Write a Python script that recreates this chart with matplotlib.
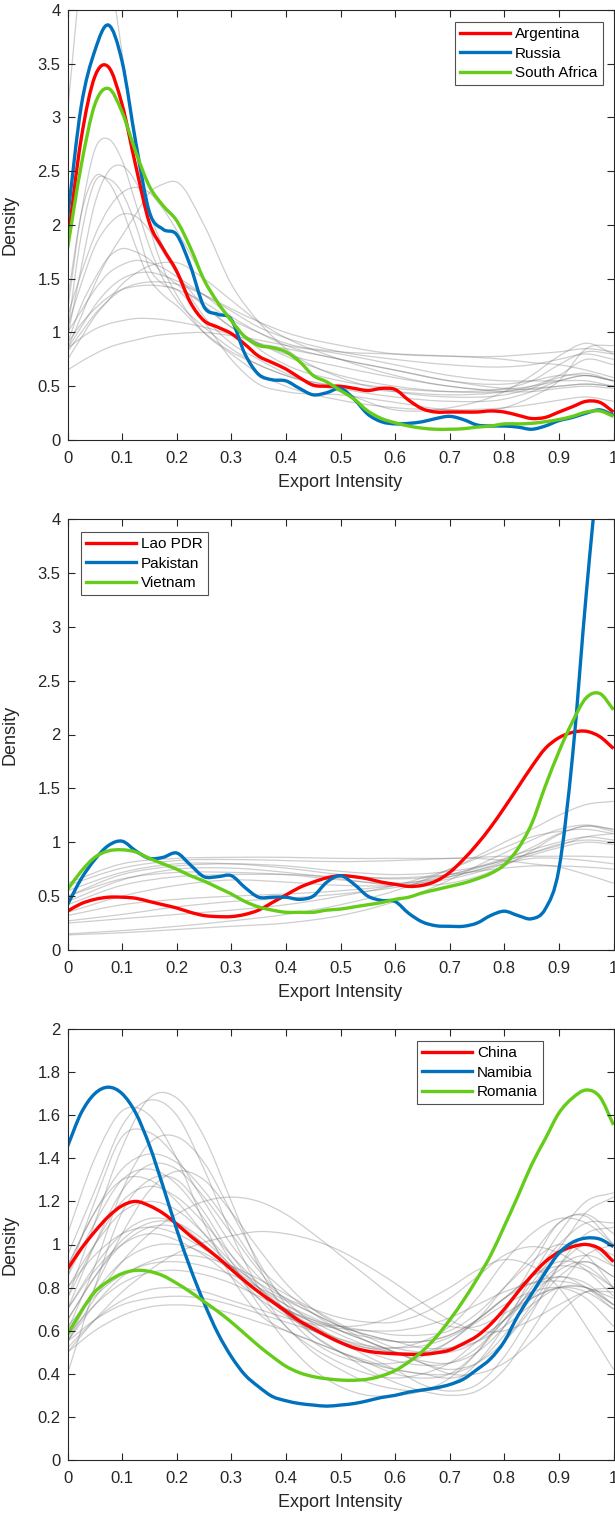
import numpy as np
import matplotlib
matplotlib.use("Agg")
import matplotlib.pyplot as plt
from matplotlib.path import Path
from matplotlib.patches import PathPatch
from matplotlib.lines import Line2D
from matplotlib.ticker import FuncFormatter

plt.rcParams['font.family'] = ['Liberation Sans', 'DejaVu Sans']

# ---------------------------------------------------------------- grids
x_fine = np.round(np.arange(41) * 0.025, 3)

# ---------------------------------------------------------------- panel 1
p1_names = ["Argentina", "Russia", "South Africa"]
p1_argentina = [1.83, 2.80, 3.38, 3.47, 3.12, 2.55, 2.02, 1.78, 1.57, 1.28, 1.11,
                1.05, 0.99, 0.89, 0.78, 0.72, 0.66, 0.58, 0.51, 0.50, 0.50, 0.48,
                0.46, 0.48, 0.47, 0.37, 0.29, 0.26, 0.26, 0.26, 0.26, 0.27, 0.26,
                0.23, 0.20, 0.21, 0.26, 0.31, 0.36, 0.35, 0.26]
p1_russia = [2.06, 3.10, 3.62, 3.86, 3.52, 2.77, 2.12, 1.96, 1.91, 1.62, 1.24,
             1.17, 1.12, 0.80, 0.61, 0.56, 0.55, 0.48, 0.42, 0.44, 0.48, 0.38,
             0.24, 0.17, 0.15, 0.155, 0.17, 0.20, 0.22, 0.19, 0.14, 0.13, 0.13,
             0.12, 0.10, 0.13, 0.18, 0.21, 0.25, 0.28, 0.23]
p1_south_africa = [1.78, 2.55, 3.12, 3.27, 3.05, 2.68, 2.36, 2.18, 2.04, 1.79, 1.49,
                   1.28, 1.11, 0.96, 0.88, 0.86, 0.82, 0.73, 0.60, 0.54, 0.46, 0.38,
                   0.27, 0.20, 0.16, 0.13, 0.11, 0.10, 0.10, 0.105, 0.12, 0.13, 0.15,
                   0.15, 0.155, 0.17, 0.19, 0.22, 0.26, 0.27, 0.22]

p1_gray_x = [0, 0.025, 0.05, 0.075, 0.1, 0.125, 0.15, 0.175, 0.2, 0.25, 0.3,
             0.35, 0.4, 0.5, 0.6, 0.7, 0.8, 0.85, 0.9, 0.95, 1.0]
p1_gray = [
    [3.05, 4.30, 4.70, 4.40, 3.60, 2.70, 2.00, 1.60, 1.35, 1.00, 0.80, 0.62, 0.50, 0.37, 0.30, 0.28, 0.30, 0.33, 0.37, 0.40, 0.36],
    [1.20, 2.10, 2.70, 2.80, 2.60, 2.20, 1.80, 1.50, 1.30, 1.05, 0.85, 0.70, 0.60, 0.50, 0.45, 0.42, 0.45, 0.50, 0.60, 0.75, 0.70],
    [0.95, 1.60, 2.20, 2.50, 2.55, 2.40, 2.10, 1.80, 1.55, 1.15, 0.90, 0.75, 0.62, 0.48, 0.40, 0.36, 0.38, 0.45, 0.55, 0.60, 0.55],
    [1.30, 2.10, 2.45, 2.40, 2.15, 1.80, 1.50, 1.35, 1.25, 1.00, 0.82, 0.70, 0.60, 0.45, 0.28, 0.30, 0.45, 0.60, 0.78, 0.90, 0.80],
    [1.00, 1.90, 2.40, 2.43, 2.30, 2.00, 1.60, 1.45, 1.40, 1.10, 0.75, 0.52, 0.45, 0.42, 0.35, 0.28, 0.30, 0.40, 0.55, 0.85, 0.88],
    [0.85, 1.15, 1.45, 1.70, 1.90, 2.10, 2.30, 2.38, 2.40, 2.00, 1.45, 1.10, 0.85, 0.58, 0.45, 0.40, 0.42, 0.48, 0.58, 0.62, 0.55],
    [1.15, 1.55, 1.90, 2.15, 2.30, 2.35, 2.30, 2.15, 1.95, 1.50, 1.10, 0.85, 0.70, 0.55, 0.48, 0.45, 0.47, 0.50, 0.55, 0.60, 0.55],
    [1.05, 1.45, 1.80, 2.00, 2.10, 2.08, 1.95, 1.75, 1.55, 1.25, 1.05, 0.90, 0.78, 0.60, 0.50, 0.45, 0.45, 0.48, 0.50, 0.52, 0.50],
    [0.90, 1.25, 1.50, 1.70, 1.78, 1.75, 1.68, 1.55, 1.45, 1.25, 1.05, 0.90, 0.80, 0.68, 0.58, 0.50, 0.45, 0.45, 0.48, 0.50, 0.48],
    [1.00, 1.20, 1.40, 1.55, 1.63, 1.67, 1.65, 1.60, 1.52, 1.35, 1.15, 1.00, 0.88, 0.75, 0.65, 0.55, 0.48, 0.47, 0.50, 0.52, 0.50],
    [0.85, 1.05, 1.25, 1.40, 1.50, 1.55, 1.56, 1.53, 1.48, 1.35, 1.20, 1.05, 0.95, 0.82, 0.75, 0.70, 0.68, 0.70, 0.75, 0.80, 0.75],
    [0.82, 1.00, 1.17, 1.30, 1.40, 1.45, 1.47, 1.47, 1.45, 1.35, 1.22, 1.10, 1.00, 0.88, 0.80, 0.78, 0.78, 0.80, 0.82, 0.85, 0.82],
    [0.90, 1.08, 1.22, 1.33, 1.40, 1.43, 1.44, 1.43, 1.40, 1.28, 1.12, 1.00, 0.90, 0.82, 0.80, 0.78, 0.75, 0.72, 0.70, 0.65, 0.58],
    [0.85, 0.95, 1.03, 1.08, 1.11, 1.13, 1.13, 1.12, 1.10, 1.05, 0.98, 0.90, 0.85, 0.75, 0.65, 0.55, 0.52, 0.55, 0.60, 0.60, 0.55],
    [0.65, 0.73, 0.80, 0.86, 0.90, 0.93, 0.96, 0.98, 0.99, 1.00, 0.97, 0.93, 0.88, 0.80, 0.70, 0.60, 0.55, 0.55, 0.55, 0.55, 0.50],
    [0.75, 0.95, 1.15, 1.30, 1.45, 1.55, 1.62, 1.65, 1.65, 1.50, 1.30, 1.10, 0.95, 0.75, 0.60, 0.50, 0.48, 0.55, 0.70, 0.82, 0.80],
]

# ---------------------------------------------------------------- panel 2
p2_names = ["Lao PDR", "Pakistan", "Vietnam"]
p2_lao = [0.36, 0.43, 0.47, 0.49, 0.49, 0.48, 0.45, 0.42, 0.39, 0.35, 0.32,
          0.31, 0.31, 0.33, 0.37, 0.44, 0.51, 0.58, 0.63, 0.67, 0.69, 0.68,
          0.66, 0.63, 0.61, 0.59, 0.60, 0.64, 0.72, 0.84, 0.98, 1.14, 1.32,
          1.51, 1.70, 1.87, 1.97, 2.02, 2.03, 1.98, 1.87]
p2_pakistan = [0.42, 0.66, 0.84, 0.97, 1.01, 0.92, 0.85, 0.86, 0.90, 0.79, 0.68,
               0.68, 0.69, 0.58, 0.49, 0.49, 0.49, 0.47, 0.50, 0.63, 0.69, 0.61,
               0.50, 0.46, 0.45, 0.34, 0.26, 0.225, 0.22, 0.22, 0.25, 0.32, 0.36,
               0.32, 0.29, 0.38, 0.75, 1.80, 3.30, 4.60, 5.50]
p2_vietnam = [0.56, 0.73, 0.86, 0.92, 0.93, 0.91, 0.85, 0.80, 0.75, 0.69, 0.64,
              0.58, 0.52, 0.45, 0.40, 0.37, 0.35, 0.35, 0.35, 0.37, 0.38, 0.40,
              0.42, 0.44, 0.47, 0.49, 0.53, 0.56, 0.59, 0.62, 0.66, 0.71, 0.79,
              0.94, 1.17, 1.52, 1.84, 2.12, 2.34, 2.38, 2.23]

p2_gray_x = [0, 0.1, 0.2, 0.3, 0.4, 0.5, 0.6, 0.7, 0.75, 0.8, 0.85, 0.9, 0.95, 1.0]
p2_gray = [
    [0.14, 0.16, 0.19, 0.22, 0.25, 0.32, 0.45, 0.65, 0.78, 0.90, 1.02, 1.12, 1.16, 1.12],
    [0.15, 0.18, 0.22, 0.27, 0.33, 0.42, 0.55, 0.75, 0.87, 1.00, 1.12, 1.25, 1.35, 1.38],
    [0.25, 0.29, 0.33, 0.37, 0.42, 0.50, 0.60, 0.75, 0.85, 0.95, 1.05, 1.10, 1.12, 1.08],
    [0.27, 0.33, 0.40, 0.45, 0.48, 0.52, 0.58, 0.68, 0.74, 0.82, 0.90, 0.98, 1.02, 1.00],
    [0.32, 0.42, 0.47, 0.50, 0.52, 0.55, 0.60, 0.70, 0.77, 0.85, 0.93, 1.00, 1.05, 1.02],
    [0.35, 0.50, 0.60, 0.65, 0.63, 0.60, 0.60, 0.66, 0.72, 0.80, 0.88, 0.95, 1.00, 0.98],
    [0.45, 0.65, 0.75, 0.76, 0.72, 0.66, 0.60, 0.62, 0.68, 0.78, 0.92, 1.07, 1.15, 1.10],
    [0.50, 0.70, 0.78, 0.80, 0.78, 0.73, 0.70, 0.73, 0.77, 0.83, 0.90, 0.97, 1.05, 1.08],
    [0.55, 0.72, 0.80, 0.80, 0.76, 0.70, 0.66, 0.70, 0.76, 0.84, 0.95, 1.08, 1.15, 1.12],
    [0.60, 0.76, 0.83, 0.84, 0.83, 0.82, 0.83, 0.85, 0.86, 0.87, 0.87, 0.87, 0.87, 0.86],
    [0.62, 0.80, 0.85, 0.86, 0.86, 0.85, 0.85, 0.85, 0.85, 0.83, 0.80, 0.77, 0.70, 0.62],
    [0.42, 0.60, 0.68, 0.70, 0.70, 0.68, 0.67, 0.70, 0.73, 0.76, 0.78, 0.78, 0.77, 0.75],
    [0.50, 0.66, 0.72, 0.72, 0.70, 0.65, 0.62, 0.68, 0.74, 0.80, 0.85, 0.85, 0.83, 0.80],
]

# ---------------------------------------------------------------- panel 3
p3_names = ["China", "Namibia", "Romania"]
p3_china = [0.885, 0.98, 1.06, 1.13, 1.18, 1.20, 1.18, 1.145, 1.095, 1.04, 0.99,
            0.94, 0.885, 0.83, 0.78, 0.735, 0.69, 0.645, 0.61, 0.575, 0.545, 0.52,
            0.505, 0.497, 0.493, 0.49, 0.49, 0.497, 0.51, 0.54, 0.575, 0.63, 0.70,
            0.78, 0.855, 0.92, 0.965, 0.99, 1.00, 0.98, 0.92]
p3_namibia = [1.455, 1.61, 1.70, 1.73, 1.70, 1.61, 1.46, 1.27, 1.07, 0.89, 0.73,
              0.59, 0.48, 0.395, 0.34, 0.295, 0.275, 0.262, 0.255, 0.25, 0.255, 0.262,
              0.275, 0.29, 0.30, 0.315, 0.325, 0.335, 0.35, 0.375, 0.42, 0.47, 0.55,
              0.67, 0.77, 0.87, 0.96, 1.01, 1.03, 1.025, 0.99]
p3_romania = [0.58, 0.69, 0.78, 0.83, 0.865, 0.88, 0.875, 0.855, 0.82, 0.78, 0.735,
              0.69, 0.64, 0.585, 0.53, 0.48, 0.435, 0.405, 0.387, 0.377, 0.371, 0.37,
              0.375, 0.39, 0.415, 0.455, 0.505, 0.57, 0.65, 0.74, 0.84, 0.95, 1.085,
              1.225, 1.37, 1.49, 1.61, 1.68, 1.717, 1.685, 1.555]

p3_gray_x = [0, 0.05, 0.1, 0.15, 0.2, 0.25, 0.3, 0.35, 0.4, 0.45, 0.5,
             0.55, 0.6, 0.65, 0.7, 0.75, 0.8, 0.85, 0.9, 0.95, 1.0]
p3_gray = [
    [0.75, 1.10, 1.45, 1.68, 1.68, 1.50, 1.20, 0.90, 0.68, 0.55, 0.48, 0.45, 0.45, 0.48, 0.55, 0.65, 0.75, 0.82, 0.85, 0.82, 0.72],
    [0.95, 1.25, 1.55, 1.67, 1.60, 1.35, 1.05, 0.80, 0.62, 0.52, 0.45, 0.40, 0.38, 0.40, 0.45, 0.55, 0.65, 0.75, 0.80, 0.78, 0.70],
    [0.40, 0.80, 1.15, 1.30, 1.30, 1.15, 0.95, 0.80, 0.70, 0.65, 0.62, 0.60, 0.58, 0.58, 0.60, 0.68, 0.80, 0.92, 1.00, 0.95, 0.80],
    [1.05, 1.40, 1.62, 1.60, 1.40, 1.10, 0.85, 0.68, 0.60, 0.55, 0.50, 0.45, 0.40, 0.38, 0.40, 0.50, 0.65, 0.78, 0.85, 0.80, 0.70],
    [0.85, 1.20, 1.50, 1.52, 1.40, 1.20, 1.00, 0.85, 0.75, 0.68, 0.62, 0.58, 0.55, 0.52, 0.52, 0.55, 0.62, 0.72, 0.80, 0.80, 0.72],
    [0.60, 0.90, 1.25, 1.47, 1.50, 1.38, 1.15, 0.92, 0.72, 0.58, 0.50, 0.45, 0.42, 0.40, 0.38, 0.42, 0.55, 0.72, 0.90, 1.00, 0.95],
    [0.90, 1.15, 1.35, 1.42, 1.38, 1.25, 1.08, 0.90, 0.78, 0.68, 0.60, 0.55, 0.50, 0.46, 0.45, 0.50, 0.62, 0.80, 0.95, 1.00, 0.90],
    [0.70, 1.00, 1.25, 1.37, 1.35, 1.22, 1.05, 0.88, 0.74, 0.63, 0.55, 0.48, 0.42, 0.35, 0.32, 0.35, 0.48, 0.68, 0.90, 1.05, 1.08],
    [0.55, 0.80, 1.05, 1.25, 1.34, 1.30, 1.15, 0.98, 0.82, 0.70, 0.62, 0.55, 0.50, 0.45, 0.40, 0.40, 0.45, 0.55, 0.68, 0.78, 0.80],
    [0.90, 1.15, 1.30, 1.30, 1.20, 1.05, 0.90, 0.80, 0.72, 0.66, 0.60, 0.57, 0.55, 0.55, 0.58, 0.65, 0.75, 0.85, 0.92, 0.90, 0.80],
    [0.75, 1.00, 1.20, 1.27, 1.22, 1.10, 0.95, 0.82, 0.72, 0.65, 0.60, 0.55, 0.50, 0.45, 0.42, 0.45, 0.55, 0.70, 0.85, 0.92, 0.85],
    [0.55, 0.75, 0.92, 1.05, 1.14, 1.20, 1.22, 1.20, 1.14, 1.05, 0.95, 0.85, 0.75, 0.67, 0.62, 0.62, 0.68, 0.75, 0.80, 0.80, 0.75],
    [0.50, 0.65, 0.78, 0.88, 0.96, 1.01, 1.04, 1.06, 1.05, 1.02, 0.97, 0.90, 0.82, 0.73, 0.65, 0.60, 0.60, 0.65, 0.72, 0.78, 0.78],
    [0.80, 1.00, 1.15, 1.20, 1.16, 1.05, 0.92, 0.80, 0.70, 0.62, 0.56, 0.52, 0.50, 0.50, 0.52, 0.58, 0.70, 0.85, 1.00, 1.10, 1.10],
    [0.65, 0.85, 1.02, 1.10, 1.10, 1.02, 0.90, 0.78, 0.68, 0.60, 0.55, 0.52, 0.52, 0.55, 0.62, 0.75, 0.92, 1.05, 1.12, 1.10, 1.00],
    [0.70, 0.88, 1.00, 1.05, 1.02, 0.95, 0.85, 0.75, 0.67, 0.60, 0.55, 0.50, 0.46, 0.44, 0.45, 0.52, 0.65, 0.82, 0.98, 1.15, 1.22],
    [0.60, 0.78, 0.92, 0.99, 1.00, 0.96, 0.88, 0.78, 0.68, 0.58, 0.50, 0.42, 0.36, 0.32, 0.30, 0.32, 0.42, 0.60, 0.80, 0.95, 1.00],
    [0.55, 0.72, 0.85, 0.92, 0.95, 0.94, 0.90, 0.84, 0.77, 0.70, 0.63, 0.57, 0.52, 0.50, 0.50, 0.55, 0.65, 0.78, 0.90, 0.95, 0.90],
    [0.62, 0.76, 0.86, 0.91, 0.92, 0.90, 0.86, 0.80, 0.74, 0.68, 0.62, 0.58, 0.55, 0.55, 0.58, 0.65, 0.75, 0.85, 0.90, 0.88, 0.80],
    [0.58, 0.72, 0.82, 0.87, 0.88, 0.86, 0.82, 0.76, 0.70, 0.64, 0.58, 0.53, 0.50, 0.50, 0.55, 0.65, 0.80, 0.95, 1.10, 1.14, 1.05],
    [0.52, 0.65, 0.74, 0.79, 0.80, 0.78, 0.74, 0.70, 0.66, 0.63, 0.61, 0.60, 0.60, 0.62, 0.66, 0.72, 0.78, 0.82, 0.83, 0.80, 0.72],
    [0.55, 0.65, 0.72, 0.75, 0.76, 0.75, 0.72, 0.68, 0.64, 0.60, 0.56, 0.53, 0.52, 0.53, 0.57, 0.64, 0.72, 0.78, 0.80, 0.75, 0.62],
    [0.50, 0.60, 0.67, 0.71, 0.72, 0.71, 0.68, 0.64, 0.60, 0.55, 0.50, 0.46, 0.42, 0.40, 0.40, 0.45, 0.58, 0.75, 0.88, 0.92, 0.85],
    [0.85, 1.10, 1.30, 1.35, 1.28, 1.12, 0.92, 0.72, 0.55, 0.42, 0.34, 0.30, 0.30, 0.32, 0.38, 0.50, 0.68, 0.90, 1.10, 1.13, 1.00],
    [0.70, 0.90, 1.05, 1.12, 1.10, 1.00, 0.88, 0.78, 0.70, 0.64, 0.62, 0.63, 0.67, 0.73, 0.80, 0.88, 0.93, 0.90, 0.80, 0.62, 0.42],
    [0.65, 0.85, 1.00, 1.08, 1.08, 1.00, 0.88, 0.75, 0.62, 0.50, 0.42, 0.36, 0.33, 0.32, 0.35, 0.45, 0.62, 0.85, 1.05, 1.20, 1.24],
    [0.80, 0.95, 1.05, 1.08, 1.05, 0.98, 0.90, 0.82, 0.75, 0.70, 0.66, 0.64, 0.64, 0.68, 0.75, 0.85, 0.95, 0.99, 0.96, 0.88, 0.76],
]

# ---------------------------------------------------------------- styling
RED = (1.0, 0.0, 0.0)
BLUE = (0.0, 0.447, 0.741)
GREEN = (0.40, 0.80, 0.10)
GRAY = (0.45, 0.45, 0.45)
AX_COLOR = (0.15, 0.15, 0.15)


def smooth_curve(ax, xs, ys, **style):
    """Draw a smooth curve through (xs, ys) as a cubic Bezier path in data space."""
    x = np.asarray(xs, float)
    y = np.asarray(ys, float)
    d = np.diff(y) / np.diff(x)
    m = np.empty_like(y)
    m[0], m[-1] = d[0], d[-1]
    h = np.diff(x)
    m[1:-1] = (d[:-1] * h[1:] + d[1:] * h[:-1]) / (h[:-1] + h[1:])
    verts = [(x[0], y[0])]
    codes = [Path.MOVETO]
    for i in range(len(x) - 1):
        dx = h[i] / 3.0
        verts += [(x[i] + dx, y[i] + m[i] * dx),
                  (x[i + 1] - dx, y[i + 1] - m[i + 1] * dx),
                  (x[i + 1], y[i + 1])]
        codes += [Path.CURVE4] * 3
    patch = PathPatch(Path(verts, codes), fill=False, capstyle='butt',
                      joinstyle='round', **style)
    ax.add_patch(patch)
    return patch


W, H = 615, 1518
fig = plt.figure(figsize=(W / 100, H / 100), dpi=100)

AX_LEFT, AX_RIGHT = 67.5, 613.5
panels = [
    dict(top=10, bottom=440, ymax=4, ystep=0.5,
         gx=p1_gray_x, gray=p1_gray, names=p1_names,
         series=[p1_argentina, p1_russia, p1_south_africa], leg=(454.5, 22)),
    dict(top=519, bottom=950, ymax=4, ystep=0.5,
         gx=p2_gray_x, gray=p2_gray, names=p2_names,
         series=[p2_lao, p2_pakistan, p2_vietnam], leg=(80.5, 532)),
    dict(top=1029, bottom=1460, ymax=2, ystep=0.2,
         gx=p3_gray_x, gray=p3_gray, names=p3_names,
         series=[p3_china, p3_namibia, p3_romania], leg=(416.5, 1041)),
]

fmt = FuncFormatter(lambda v, pos: f"{v:g}")

for p in panels:
    ax = fig.add_axes([AX_LEFT / W, 1 - p["bottom"] / H,
                       (AX_RIGHT - AX_LEFT) / W, (p["bottom"] - p["top"]) / H])
    for g in p["gray"]:
        smooth_curve(ax, p["gx"], g, edgecolor=GRAY, alpha=0.35, lw=0.9)
    handles = []
    for ys, c, name in zip(p["series"], [RED, BLUE, GREEN], p["names"]):
        smooth_curve(ax, x_fine, ys, edgecolor=c, lw=2.4)
        handles.append(Line2D([], [], color=c, lw=2.4, label=name))

    ax.set_xlim(0, 1)
    ax.set_ylim(0, p["ymax"])
    ax.set_xticks(np.round(np.arange(11) * 0.1, 1))
    n_y = int(round(p["ymax"] / p["ystep"])) + 1
    ax.set_yticks(np.round(np.arange(n_y) * p["ystep"], 2))
    ax.xaxis.set_major_formatter(fmt)
    ax.yaxis.set_major_formatter(fmt)
    ax.tick_params(direction='in', length=5, width=0.8, colors=AX_COLOR,
                   top=True, right=True, labelsize=12)
    ax.tick_params(axis='x', pad=8)
    ax.tick_params(axis='y', pad=5)
    for s in ax.spines.values():
        s.set_color(AX_COLOR)
        s.set_linewidth(0.8)

    ax.set_xlabel("Export Intensity", fontsize=13, color=AX_COLOR)
    ax.set_ylabel("Density", fontsize=13, color=AX_COLOR)
    hgt = p["bottom"] - p["top"]
    ax.xaxis.set_label_coords(0.5, -34 / hgt, transform=ax.transAxes)
    ax.yaxis.set_label_coords((19 - AX_LEFT) / (AX_RIGHT - AX_LEFT), 0.5,
                              transform=ax.transAxes)

    lx, ly = p["leg"]
    leg = ax.legend(handles=handles, loc='upper left',
                    bbox_to_anchor=((lx - AX_LEFT) / (AX_RIGHT - AX_LEFT),
                                    (p["bottom"] - ly) / hgt),
                    borderaxespad=0, fontsize=11, frameon=True, fancybox=False,
                    handlelength=3.3, handletextpad=0.3, labelspacing=0.35,
                    borderpad=0.35)
    leg.get_frame().set_edgecolor(AX_COLOR)
    leg.get_frame().set_linewidth(0.8)

fig.savefig("out.png", dpi=100)
